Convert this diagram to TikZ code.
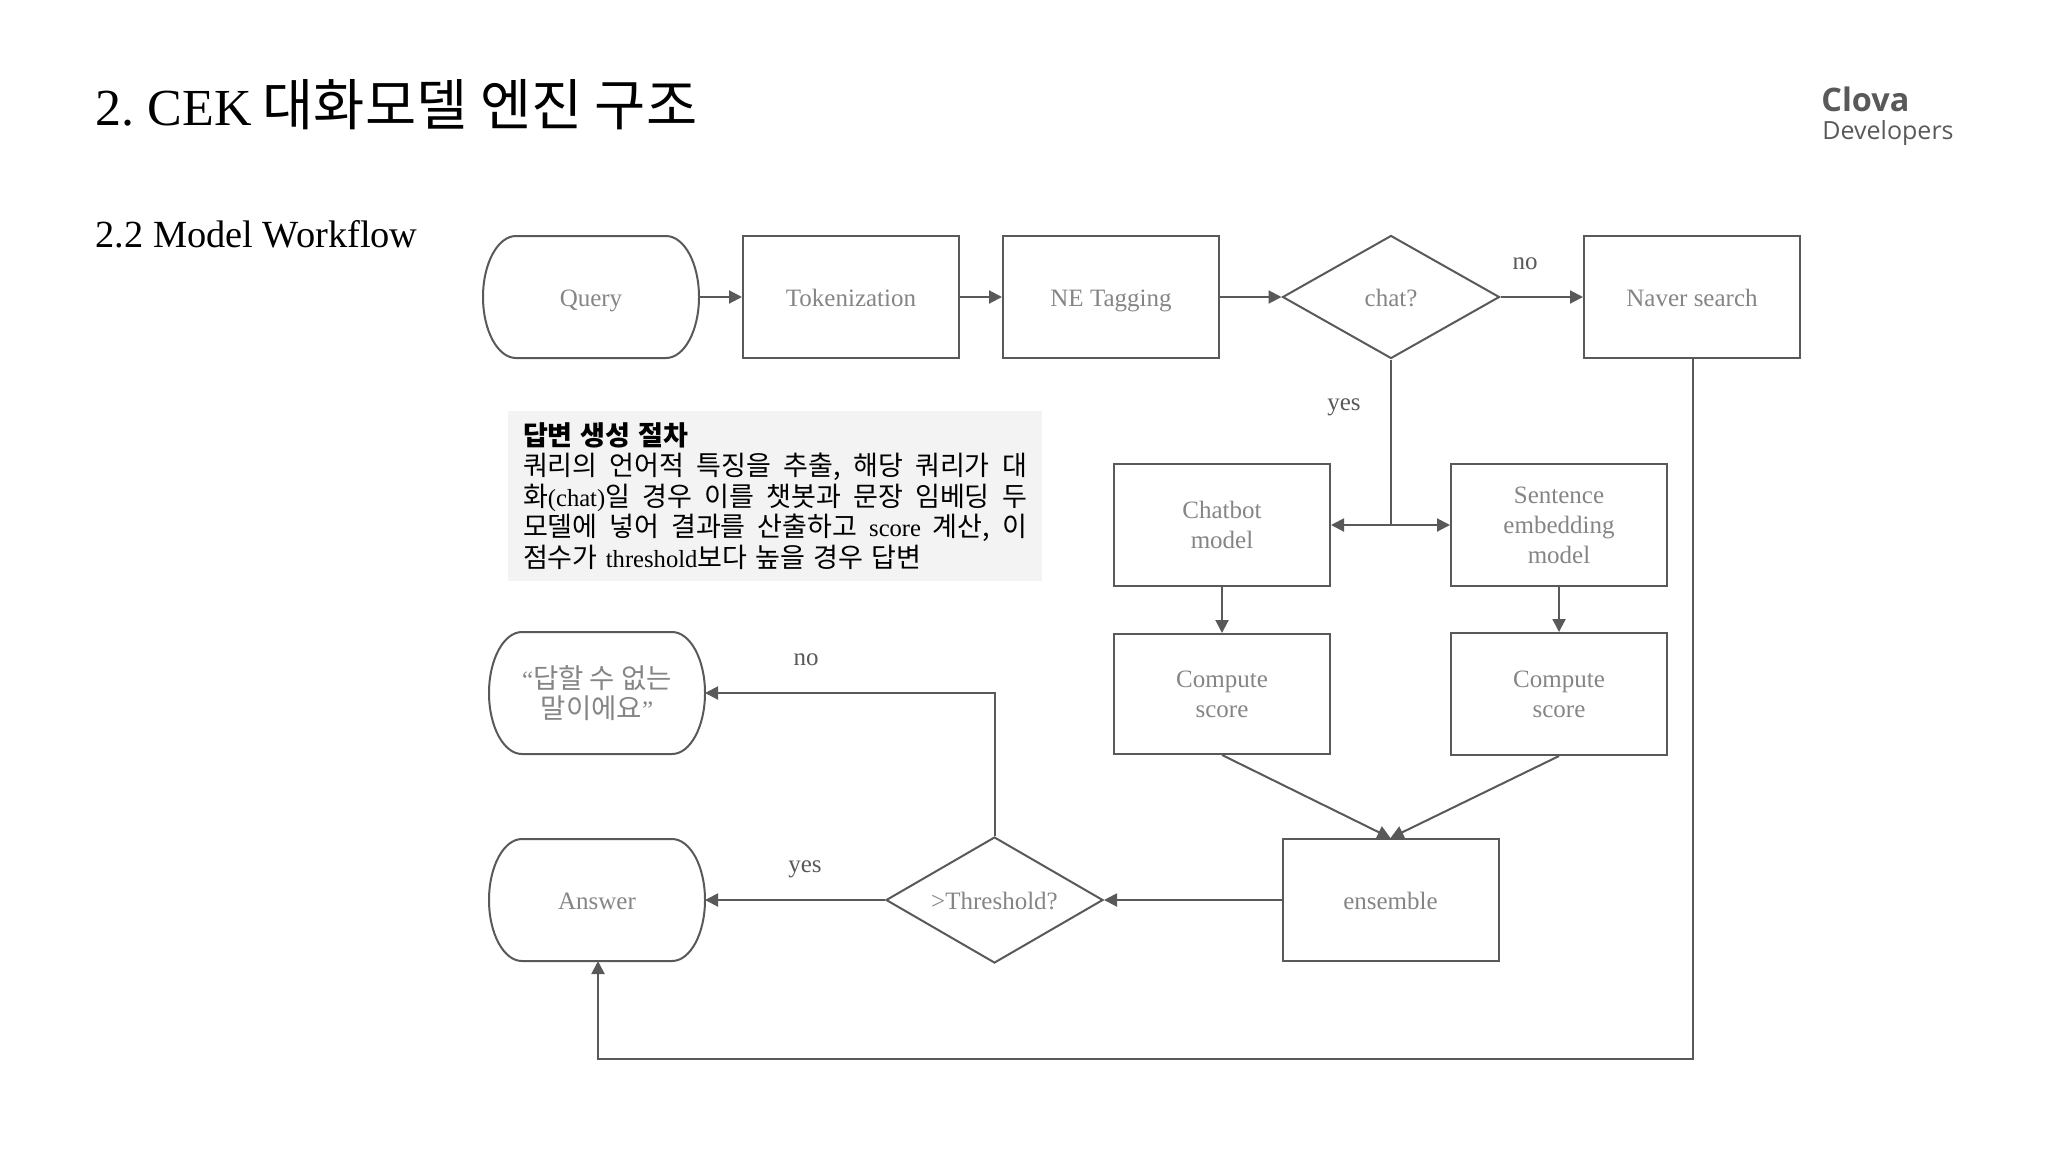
\documentclass[tikz,border=0pt]{standalone}
\usepackage{fontspec}
\setmainfont{Liberation Serif}
\newfontfamily\krfont[Scale=1.1]{Noto Sans CJK KR}
\newfontfamily\logofont{Open Sans}
\usetikzlibrary{shapes.geometric,arrows.meta}
\definecolor{lineclr}{HTML}{595959}
\definecolor{textclr}{HTML}{858585}
\definecolor{panelclr}{HTML}{F3F3F3}
\newcommand{\kr}[1]{{\krfont #1}}
\newcommand{\fitline}[1]{\makebox[252pt][s]{\frenchspacing\spaceskip=0.25em plus 1fil\relax #1}}
\tikzset{
  base/.style={draw=lineclr, line width=1pt, text=textclr, inner sep=0pt, align=center,
    font=\fontsize{12.5}{15}\selectfont},
  flowbox/.style={base, rectangle, minimum width=108pt, minimum height=61pt},
  terminal/.style={base, draw=none, rectangle, outer sep=0pt, minimum width=108pt, minimum height=61pt},
  decision/.style={base, diamond, aspect=1.74, minimum width=108.5pt, minimum height=61.5pt},
  oneline/.style={text height=9pt, text depth=0pt},
  tag/.style={text=lineclr, font=\fontsize{12.5}{15}\selectfont},
  link/.style={draw=lineclr, line width=1pt, -{Triangle[length=6.5pt,width=6.5pt]}},
  plain/.style={draw=lineclr, line width=1pt}
}
\begin{document}
\begin{tikzpicture}[x=0.5pt, y=-0.5pt]
    \useasboundingbox (0,0) rectangle (2048,1152);

    % heading and logo
    \node (title) [anchor=base west, inner sep=0pt, font=\fontsize{26}{30}\selectfont] at (95,125) {2.\hspace{-2pt} CEK\hspace{-1pt} {\fontsize{25.3}{30}\selectfont\kr{대화모델 엔진 구조}}};
    \node (subtitle) [anchor=base west, inner sep=0pt, font=\fontsize{19.2}{23}\selectfont] at (95,247) {2.2 Model Workflow};
    \node (clova) [anchor=base west, inner sep=0pt, text=lineclr, font=\logofont\bfseries\fontsize{16.2}{18}\selectfont] at (1821,111) {Clova};
    \node (developers) [anchor=base west, inner sep=0pt, text=lineclr, font=\logofont\fontsize{12.5}{15}\selectfont] at (1822,139) {Developers};

    % top row
    \node (query) [terminal, oneline] at (591,297) {Query};
    \node (token) [flowbox, oneline, right of=query, node distance=130pt] {Tokenization};
    \node (netag) [flowbox, oneline, right of=token, node distance=130pt] {NE Tagging};
    \node (chat) [decision, oneline, right of=netag, node distance=140pt] {chat?};
    \node (naver) [flowbox, oneline, right of=chat, node distance=150.5pt] {Naver search};

    % models
    \node (chatbot) [flowbox] at (1222,525) {Chatbot\\model};
    \node (sentence) [flowbox, right of=chatbot, node distance=168.5pt] {Sentence\\embedding\\model};
    \node (scoreA) [flowbox, minimum height=60pt] at (1222,694) {Compute\\score};
    \node (scoreB) [flowbox, right of=scoreA, node distance=168.5pt] {Compute\\score};

    % bottom row
    \node (ensemble) [flowbox, oneline] at (1390.5,900) {ensemble};
    \node (threshold) [decision, oneline, minimum height=63pt, left of=ensemble, node distance=198pt] {>Threshold?};
    \node (answer) [terminal, oneline] at (597,900) {Answer};
    \node (reject) [terminal] at (597,693) {“\kr{답할 수 없는}\\\kr{말이에요}”};

    % explanation panel
    \node (panel) [fill=panelclr, minimum width=267pt, minimum height=85pt, inner sep=0pt, text width=252pt, align=left,
      font=\fontsize{12.3}{15.3}\selectfont] at (775,496) {%
      \kr{\bfseries 답변 생성 절차}\\
      \fitline{\kr{쿼리의 언어적 특징을 추출, 해당 쿼리가 대}}\\
      \fitline{\kr{화}(chat)\kr{일 경우 이를 챗봇과 문장 임베딩 두}}\\
      \fitline{\kr{모델에 넣어 결과를 산출하고} score \kr{계산, 이}}\\
      \kr{점수가} threshold\kr{보다 높을 경우 답변}};

    % rounded outlines
    \foreach \n in {query,answer,reject} {
      \draw[plain] ([xshift=16.5pt]\n.north west) -- ([xshift=-16.5pt]\n.north east)
        arc[start angle=90, end angle=-90, x radius=16.5pt, y radius=30.5pt]
        -- ([xshift=16.5pt]\n.south west)
        arc[start angle=270, end angle=90, x radius=16.5pt, y radius=30.5pt] -- cycle;
    }

    % connectors
    \coordinate (split) at (chat.south |- chatbot.east);
    \coordinate (corner) at (threshold.north |- reject.east);
    \coordinate (lowright) at ([xshift=0.5pt]naver.south |- 0,1059);
    \coordinate (lowleft) at ([xshift=0.5pt]answer.south |- 0,1059);

    \draw[link] (query) -- (token);
    \draw[link] (token) -- (netag);
    \draw[link] (netag) -- (chat);
    \draw[link] (chat) -- (naver);
    \draw[plain] (chat.south) -- (split);
    \draw[link] (split) -- (chatbot);
    \draw[link] (split) -- (sentence);
    \draw[link] (chatbot) -- (scoreA);
    \draw[link] (sentence) -- (scoreB);
    \draw[link] (scoreA.south) -- (ensemble.north);
    \draw[link] (scoreB.south) -- (ensemble.north);
    \draw[link] (ensemble) -- (threshold);
    \draw[link] (threshold) -- (answer);
    \draw[link] (threshold.north) -- (corner) -- (reject.east);
    \draw[link] ([xshift=0.5pt]naver.south) -- (lowright) -- (lowleft) -- ([xshift=0.5pt]answer.south);

    % branch labels
    \node (noA) [tag] at (1525,264) {no};
    \node (yesA) [tag] at (1344,407) {yes};
    \node (noB) [tag] at (806,660) {no};
    \node (yesB) [tag] at (805,869) {yes};
\end{tikzpicture}
\end{document}
